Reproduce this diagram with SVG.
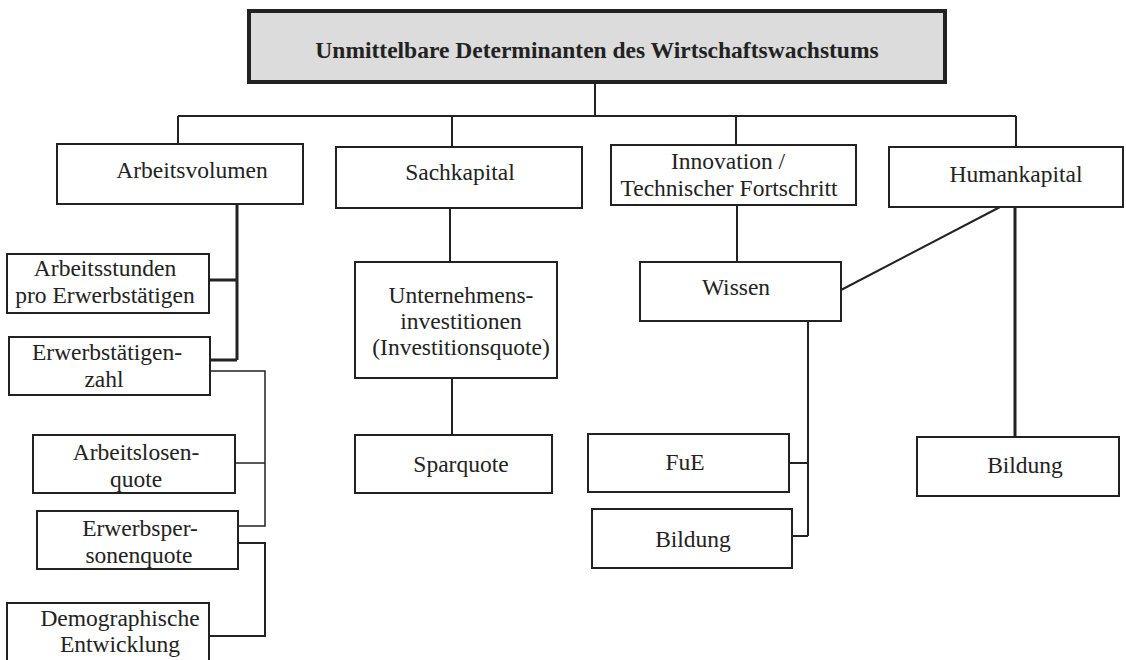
<svg xmlns="http://www.w3.org/2000/svg" width="1126" height="660" viewBox="0 0 1126 660">
<style>
.box{fill:#fff;stroke:#222;stroke-width:2}
.title{fill:#dcdcdc;stroke:#222;stroke-width:4}
text{font-family:"Liberation Serif","Times New Roman",serif;font-size:23.5px;fill:#222;text-anchor:middle}
.tt{font-weight:bold;font-size:23.5px}
.c{fill:none;stroke:#222;stroke-width:2}
.ct{fill:none;stroke:#222;stroke-width:3}
.cn{fill:none;stroke:#222;stroke-width:1.5}
</style>
<rect width="1126" height="660" fill="#fff"/>
<g id="connectors">
<path class="c" d="M595,82V116M178,116H1016M178,116V144M452,116V147M736,116V145M1016,116V147"/>
<path class="ct" d="M237,204V360M209,280H237M210,360H237"/>
<path class="cn" d="M210,371H265V526H238M235,463H265"/>
<path class="c" d="M238,543H265V636H209"/>
<path class="c" d="M450,208V262M452,378V435"/>
<path class="c" d="M737,205V262"/>
<path class="c" d="M808,321V536M789,463H808M792,536H808"/>
<path class="c" d="M1000,207L841,290"/>
<path class="ct" d="M1015,207V437"/>
</g>
<g id="n-title"><rect class="title" x="249" y="11" width="696" height="71"/><text class="tt" x="597" y="58">Unmittelbare Determinanten des Wirtschaftswachstums</text></g>
<g id="n-arbeitsvolumen"><rect class="box" x="57" y="144" width="246" height="60"/><text x="192" y="178">Arbeitsvolumen</text></g>
<g id="n-sachkapital"><rect class="box" x="336" y="147" width="246" height="61"/><text x="460" y="180">Sachkapital</text></g>
<g id="n-innovation"><rect class="box" x="611" y="145" width="245" height="60"/><text x="728" y="169">Innovation /</text><text x="729" y="196">Technischer Fortschritt</text></g>
<g id="n-humankapital"><rect class="box" x="889" y="147" width="234" height="60"/><text x="1016" y="182">Humankapital</text></g>
<g id="n-arbeitsstunden"><rect class="box" x="7" y="254" width="202" height="59"/><text x="105" y="276">Arbeitsstunden</text><text x="105" y="303">pro Erwerbstätigen</text></g>
<g id="n-erwerbstaetigenzahl"><rect class="box" x="9" y="337" width="201" height="58"/><text x="107" y="360">Erwerbstätigen-</text><text x="104" y="387">zahl</text></g>
<g id="n-arbeitslosenquote"><rect class="box" x="33" y="435" width="202" height="58"/><text x="136" y="460">Arbeitslosen-</text><text x="136" y="487">quote</text></g>
<g id="n-erwerbspersonenquote"><rect class="box" x="37" y="511" width="201" height="58"/><text x="140" y="536">Erwerbsper-</text><text x="139" y="563">sonenquote</text></g>
<g id="n-demographie"><rect class="box" x="7" y="603" width="202" height="70"/><text x="120" y="626">Demographische</text><text x="120" y="652">Entwicklung</text></g>
<g id="n-unternehmensinvestitionen"><rect class="box" x="355" y="262" width="202" height="116"/><text x="461" y="303">Unternehmens-</text><text x="461" y="329">investitionen</text><text x="461" y="355">(Investitionsquote)</text></g>
<g id="n-sparquote"><rect class="box" x="355" y="435" width="197" height="58"/><text x="461" y="472">Sparquote</text></g>
<g id="n-wissen"><rect class="box" x="640" y="262" width="201" height="59"/><text x="736" y="295">Wissen</text></g>
<g id="n-fue"><rect class="box" x="588" y="434" width="201" height="58"/><text x="685" y="470">FuE</text></g>
<g id="n-bildung1"><rect class="box" x="592" y="509" width="200" height="59"/><text x="693" y="547">Bildung</text></g>
<g id="n-bildung2"><rect class="box" x="917" y="437" width="202" height="59"/><text x="1025" y="473">Bildung</text></g>
</svg>
